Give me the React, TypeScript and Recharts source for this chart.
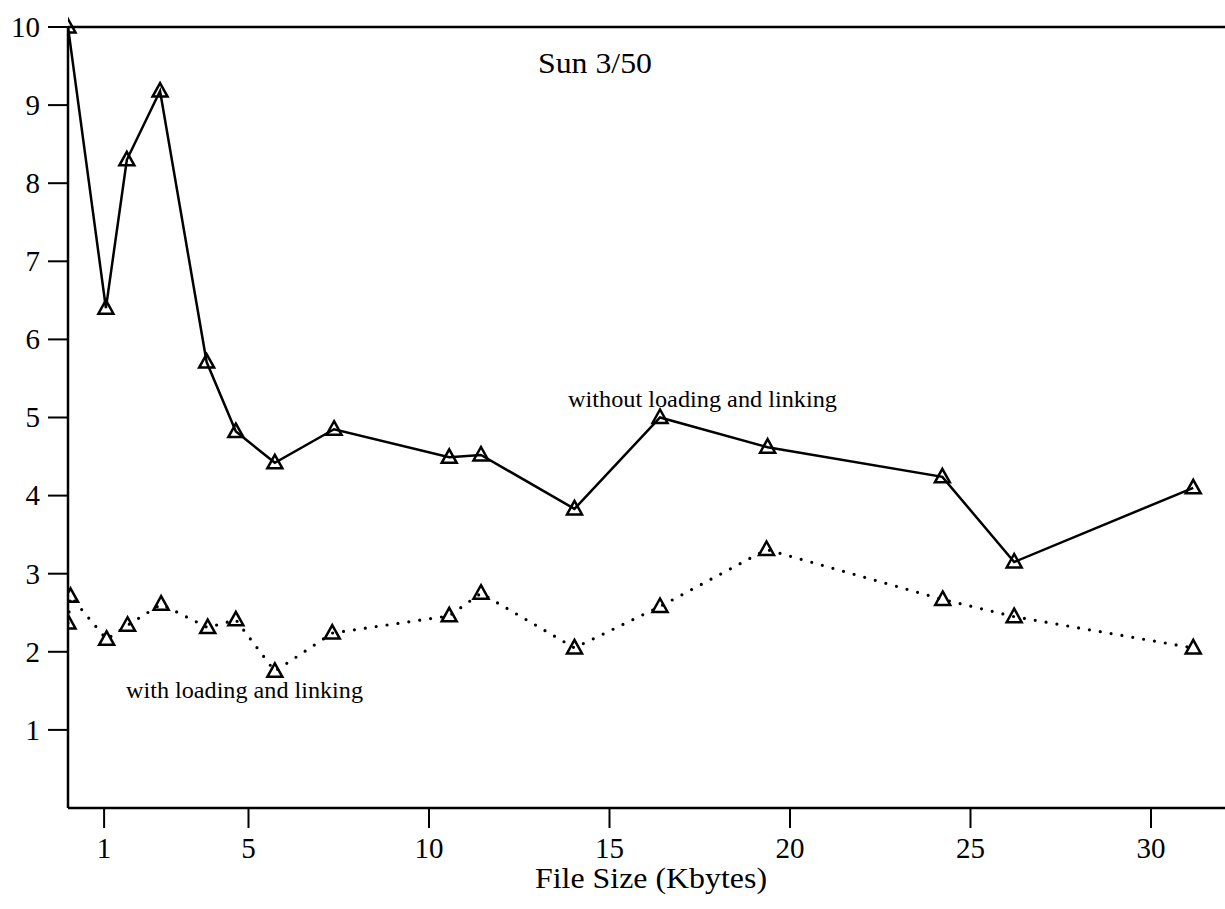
import React from 'react';
import { LineChart, Line, XAxis, YAxis, ReferenceLine } from 'recharts';

// file sizes (Kbytes) and times
const sizesWithout = [0, 1.05, 1.63, 2.55, 3.84, 4.65, 5.73, 7.37, 10.56, 11.44, 14.03, 16.4, 19.38, 24.22, 26.21, 31.17];
const timesWithout = [10.0, 6.4, 8.3, 9.18, 5.71, 4.82, 4.42, 4.85, 4.49, 4.52, 3.83, 5.0, 4.62, 4.24, 3.15, 4.1];

const sizesWith = [0, 0.07, 1.07, 1.65, 2.58, 3.87, 4.65, 5.73, 7.32, 10.56, 11.44, 14.03, 16.4, 19.35, 24.23, 26.21, 31.17];
const timesWith = [2.37, 2.71, 2.16, 2.34, 2.61, 2.31, 2.41, 1.75, 2.24, 2.46, 2.75, 2.05, 2.58, 3.31, 2.67, 2.45, 2.05];

const xTicks = [1, 5, 10, 15, 20, 25, 30];
const yTicks = [1, 2, 3, 4, 5, 6, 7, 8, 9, 10];

const withoutData = sizesWithout.map((x, i) => ({ x, y: timesWithout[i] }));
const withData = sizesWith.map((x, i) => ({ x, y: timesWith[i] }));

const FONT = '"Liberation Serif", "Times New Roman", serif';

const Triangle = (props: any) => {
  const { cx, cy } = props;
  if (cx == null || cy == null) return null;
  return (
    <path
      d={`M${cx},${cy - 8} L${cx + 7.5},${cy + 5.5} L${cx - 7.5},${cy + 5.5} Z`}
      fill="none"
      stroke="#000"
      strokeWidth={2.5}
    />
  );
};

const YTick = ({ x, y, payload }: any) => (
  <text x={x} y={y} dy="0.34em" textAnchor="end" fontSize={29} fontFamily={FONT} fill="#000">
    {payload.value}
  </text>
);

const XTick = ({ x, y, payload }: any) => (
  <text x={x} y={y} dy="0.72em" textAnchor="middle" fontSize={29} fontFamily={FONT} fill="#000">
    {payload.value}
  </text>
);

export default function App() {
  return (
    <div style={{ position: 'absolute', left: 0, top: 0, width: 1225, height: 909, background: '#fff', fontFamily: FONT }}>
      <LineChart width={1225} height={909} margin={{ top: 27, right: 0, left: 0, bottom: 0 }}>
        <XAxis
          type="number"
          dataKey="x"
          domain={[0, 32.05]}
          ticks={xTicks}
          allowDataOverflow
          height={101}
          tickSize={20}
          tickMargin={9}
          axisLine={{ stroke: '#000', strokeWidth: 2.5 }}
          tickLine={{ stroke: '#000', strokeWidth: 2 }}
          tick={<XTick />}
        />
        <YAxis
          type="number"
          dataKey="y"
          domain={[0, 10]}
          ticks={yTicks}
          width={68}
          tickSize={20}
          tickMargin={8}
          axisLine={{ stroke: '#000', strokeWidth: 2.5 }}
          tickLine={{ stroke: '#000', strokeWidth: 2 }}
          tick={<YTick />}
        />
        <ReferenceLine y={10} stroke="#000" strokeWidth={2.5} />
        <Line
          data={withoutData}
          dataKey="y"
          type="linear"
          stroke="#000"
          strokeWidth={2.5}
          dot={<Triangle />}
          activeDot={false}
          isAnimationActive={false}
        />
        <Line
          data={withData}
          dataKey="y"
          type="linear"
          stroke="#000"
          strokeWidth={3.2}
          strokeDasharray="0 11"
          strokeLinecap="round"
          dot={<Triangle />}
          activeDot={false}
          isAnimationActive={false}
        />
      </LineChart>
      <svg
        width={1225}
        height={909}
        style={{ position: 'absolute', left: 0, top: 0, pointerEvents: 'none' }}
        fontFamily={FONT}
        fill="#000"
      >
        <text x={538} y={73} fontSize={30} textLength={114} lengthAdjust="spacingAndGlyphs">Sun 3/50</text>
        <text x={568} y={407} fontSize={24} textLength={269} lengthAdjust="spacingAndGlyphs">without loading and linking</text>
        <text x={126} y={698} fontSize={24} textLength={237} lengthAdjust="spacingAndGlyphs">with loading and linking</text>
        <text x={535} y={888} fontSize={29} textLength={232} lengthAdjust="spacingAndGlyphs">File Size (Kbytes)</text>
      </svg>
    </div>
  );
}
